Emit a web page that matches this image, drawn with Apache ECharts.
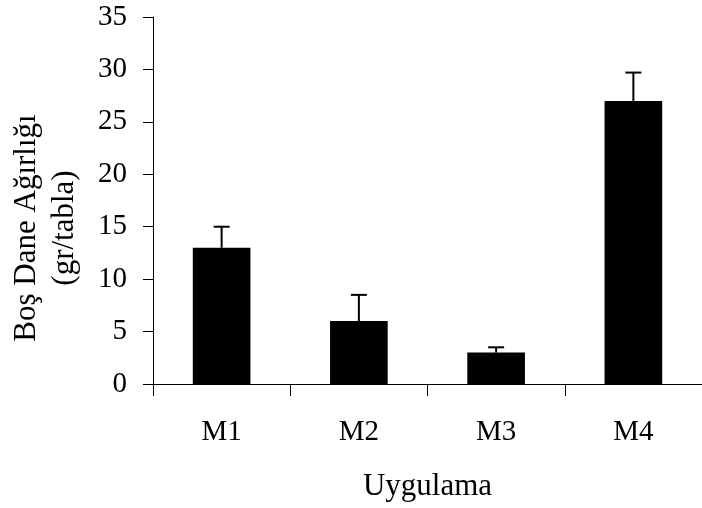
<!DOCTYPE html>
<html>
<head>
<meta charset="utf-8">
<script src="https://cdn.jsdelivr.net/npm/echarts@6/dist/echarts.min.js"></script>
<style>
  html, body { margin: 0; padding: 0; background: #fff; }
  #chart { width: 702px; height: 508px; }
</style>
</head>
<body>
<div id="chart"></div>
<script>
// Treatments and mean empty-grain weight (gr/tabla) with upward error bars
const categories = ['M1', 'M2', 'M3', 'M4'];
const means = [13, 6, 3, 27];
const errors = [2, 2.5, 0.5, 2.7];
const yTicks = [0, 5, 10, 15, 20, 25, 30, 35];

const FONT = '"Liberation Serif", "Times New Roman", serif';

const chart = echarts.init(document.getElementById('chart'), null, { renderer: 'canvas' });

const errorData = categories.map((c, i) => [i, means[i], means[i] + errors[i]]);

chart.setOption({
  animation: false,
  backgroundColor: '#fff',
  grid: { left: 153, top: 17, width: 559, height: 367, containLabel: false },
  xAxis: {
    type: 'category',
    data: categories,
    boundaryGap: true,
    axisLine: { show: true, lineStyle: { color: '#000', width: 1 } },
    axisTick: { show: true, length: 12, inside: false, alignWithLabel: false, lineStyle: { color: '#000' } },
    axisLabel: { color: '#000', fontFamily: FONT, fontSize: 29, margin: 34 },
    name: 'Uygulama',
    nameLocation: 'middle',
    nameGap: 87,
    nameTextStyle: { color: '#000', fontFamily: FONT, fontSize: 31 },
    splitLine: { show: false }
  },
  yAxis: {
    type: 'value',
    min: yTicks[0],
    max: yTicks[yTicks.length - 1],
    interval: yTicks[1] - yTicks[0],
    axisLine: { show: true, lineStyle: { color: '#000', width: 1 } },
    axisTick: { show: true, length: 10, inside: false, lineStyle: { color: '#000' } },
    axisLabel: { color: '#000', fontFamily: FONT, fontSize: 29, margin: 26 },
    splitLine: { show: false }
  },
  graphic: [{
    type: 'text',
    x: 46,
    y: 228,
    rotation: Math.PI / 2,
    style: {
      text: 'Boş Dane Ağırlığı\n(gr/tabla)',
      fill: '#000',
      font: '31px ' + FONT,
      lineHeight: 38,
      align: 'center',
      verticalAlign: 'middle'
    }
  }],
  series: [
    {
      type: 'bar',
      data: means,
      barWidth: '42%',
      itemStyle: { color: '#000' },
      silent: true
    },
    {
      type: 'custom',
      data: errorData,
      silent: true,
      z: 3,
      renderItem: function (params, api) {
        const base = api.coord([api.value(0), api.value(1)]);
        const top = api.coord([api.value(0), api.value(2)]);
        const half = 8;
        return {
          type: 'group',
          children: [
            { type: 'line', shape: { x1: base[0], y1: base[1], x2: base[0], y2: top[1] }, style: { stroke: '#000', lineWidth: 2 } },
            { type: 'line', shape: { x1: base[0] - half, y1: top[1], x2: base[0] + half, y2: top[1] }, style: { stroke: '#000', lineWidth: 2 } }
          ]
        };
      }
    }
  ]
});
</script>
</body>
</html>
